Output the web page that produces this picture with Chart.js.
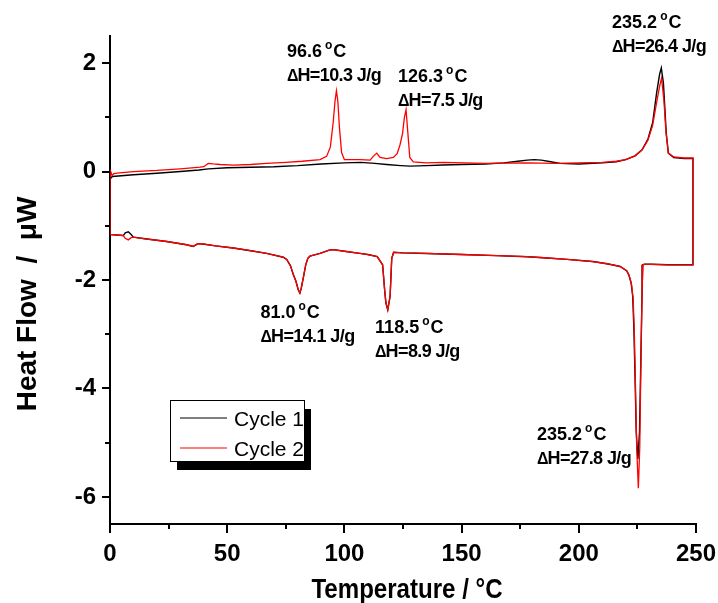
<!DOCTYPE html>
<html>
<head>
<meta charset="utf-8">
<script src="https://cdn.jsdelivr.net/npm/chart.js@4.4.1/dist/chart.umd.min.js"></script>
<style>
body{margin:0;background:#fff}
</style>
</head>
<body>
<canvas id="chart" width="718" height="603"></canvas>
<script>

// cycle 1 : heating run (0 -> 250 C) then cooling run (250 -> 0 C)
const c1HeatT=[0,1,10,20,30,38,42,50,60,70,80,90,100,107,113,118,124,128,135,142,150,160,168,174,178,181,184,188,192,200,210,216,220,224,227,229.5,231.5,233.2,234.5,235.2,236.1,236.8,237.3,238.2,240.5,245,248.7]
const c1HeatHF=[-0.14,-0.09,-0.06,-0.03,0,0.03,0.05,0.07,0.08,0.09,0.11,0.14,0.16,0.17,0.15,0.13,0.11,0.10,0.11,0.12,0.13,0.14,0.16,0.19,0.21,0.22,0.21,0.18,0.15,0.14,0.16,0.18,0.22,0.29,0.4,0.6,0.9,1.45,1.8,1.91,1.63,1.1,0.71,0.34,0.26,0.24,0.24]
const c1CoolT=[248.7,245,238,231,228,227.3,227,226.5,225.9,225.2,224.5,224,223.5,223,222.3,221.3,220.4,217.6,212,206,195,185,178,165,150,135,125,121,120.2,119.5,118.9,118.5,117.7,117.2,116.3,114,110,106.6,100,95.3,93.5,89.6,85.3,84.4,83.5,82.5,81.6,81,80.3,79.3,78.2,77,75.4,73.9,66.8,60,52.6,45,40.3,37.5,35.5,32.7,24.2,15,10,9,7.8,6.5,5.7,3,0]
const c1CoolHF=[-1.72,-1.72,-1.72,-1.71,-1.71,-1.72,-2.2,-3.4,-4.8,-5.3,-4.8,-3.8,-2.9,-2.3,-2.05,-1.9,-1.83,-1.75,-1.7,-1.66,-1.62,-1.59,-1.57,-1.55,-1.53,-1.51,-1.5,-1.49,-1.6,-2.3,-2.45,-2.55,-2.42,-2.2,-1.72,-1.57,-1.53,-1.51,-1.47,-1.44,-1.45,-1.51,-1.56,-1.6,-1.72,-1.95,-2.15,-2.24,-2.18,-2.02,-1.9,-1.74,-1.62,-1.58,-1.51,-1.46,-1.41,-1.37,-1.34,-1.33,-1.38,-1.35,-1.29,-1.24,-1.21,-1.16,-1.11,-1.13,-1.18,-1.17,-1.16]

// cycle 2
const c2HeatT=[0,0.4,0.9,1.6,3,10,20,30,38.4,40,41.9,44,47,52.6,60,66.8,75,82,89.6,92.4,94,95.2,96,96.6,97.2,97.9,98.8,100,106.7,111,112.3,113.8,115.2,118,120.9,122.5,123.7,124.8,125.6,126.3,127,127.9,129.4,135,142.2,160,177.7,190,200,210,216,220,224,227,229.5,231.5,233.3,234.6,235.3,236.3,237.2,238.2,240.5,245,248.7]
const c2HeatHF=[-0.06,-0.01,-0.07,-0.04,-0.03,0,0.02,0.05,0.08,0.09,0.15,0.14,0.13,0.12,0.13,0.15,0.17,0.19,0.22,0.28,0.45,0.9,1.3,1.49,1.3,0.8,0.35,0.22,0.22,0.21,0.28,0.34,0.26,0.24,0.26,0.33,0.49,0.7,1.0,1.14,0.75,0.26,0.18,0.16,0.17,0.15,0.16,0.15,0.16,0.17,0.19,0.22,0.29,0.4,0.58,0.85,1.3,1.6,1.72,1.32,0.72,0.34,0.27,0.25,0.25]
const c2CoolT=[248.7,245,238,231,228,227.3,227,226.6,226,225.4,224.7,224.2,223.7,223.2,222.5,221.5,220.4,217.6,212,206,195,185,178,165,150,135,125,121,120.2,119.5,118.9,118.5,117.7,117.2,116.3,114,110,106.6,100,95.3,93.5,89.6,85.3,84.4,83.5,82.5,81.6,81,80.3,79.3,78.2,77,75.4,73.9,66.8,60,52.6,45,40.3,37.5,35.5,32.7,24.2,15,10,9,7.8,6.5,5.7,3,0]
const c2CoolHF=[-1.72,-1.72,-1.72,-1.71,-1.71,-1.72,-2.2,-3.2,-5.1,-5.84,-5.1,-4.0,-3.0,-2.35,-2.08,-1.92,-1.83,-1.75,-1.7,-1.66,-1.62,-1.59,-1.57,-1.55,-1.53,-1.51,-1.5,-1.49,-1.6,-2.3,-2.45,-2.55,-2.42,-2.2,-1.72,-1.57,-1.53,-1.51,-1.47,-1.44,-1.45,-1.51,-1.56,-1.6,-1.72,-1.95,-2.15,-2.24,-2.18,-2.02,-1.9,-1.74,-1.62,-1.58,-1.51,-1.46,-1.41,-1.37,-1.34,-1.33,-1.38,-1.35,-1.29,-1.24,-1.21,-1.22,-1.26,-1.23,-1.18,-1.17,-1.16]

// peak annotations
const peakTemp=["96.6","126.3","235.2","81.0","118.5","235.2"]
const peakDH=["10.3","7.5","26.4","14.1","8.9","27.8"]
const peakLabelT=[75.5,122.9,214.2,64.2,113.1,182.2]
const peakLabelHF=[2.12,1.66,2.65,-2.70,-2.98,-4.95]

const xMajorTicks=[0,50,100,150,200,250]
const xMinorTicks=[25,75,125,175,225]
const yMajorTicks=[-6,-4,-2,0,2]
const yMinorTicks=[-5,-3,-1,1]

const FONT='"Liberation Sans", Arial, sans-serif'

function loop(hT,hF,cT,cF){
const pts=[]
hT.forEach((t,i)=>pts.push({x:t,y:hF[i]}))
cT.forEach((t,i)=>pts.push({x:t,y:cF[i]}))
pts.push({x:hT[0],y:hF[0]})
return pts
}

function squeezeText(ctx,text,x,y,sx,rot){
ctx.save()
ctx.translate(x,y)
if(rot) ctx.rotate(rot)
ctx.scale(sx,1)
ctx.textAlign="center"
ctx.textBaseline="alphabetic"
ctx.fillText(text,0,0)
ctx.restore()
}

function peakLabel(ctx,x,y,temp,dh){
ctx.save()
ctx.textAlign="left"
ctx.textBaseline="alphabetic"
ctx.font="bold 18px "+FONT
ctx.fillText(temp,x,y)
let w=ctx.measureText(temp).width+3
ctx.font="bold 12px "+FONT
ctx.fillText("o",x+w,y-8)
w+=ctx.measureText("o").width+1
ctx.font="bold 18px "+FONT
ctx.fillText("C",x+w,y)
ctx.font="bold 16px "+FONT
ctx.fillText("\u0394",x,y+24)
let d=ctx.measureText("\u0394").width-1
ctx.font="bold 18px "+FONT
ctx.letterSpacing="-0.6px"
ctx.fillText("H="+dh+" J/g",x+d,y+24)
ctx.restore()
}

const decor={
id:"decor",
afterDraw(chart){
const ctx=chart.ctx
const xs=chart.scales.x
const ys=chart.scales.y
const a=chart.chartArea
ctx.save()
ctx.strokeStyle="#000"
ctx.lineWidth=2
ctx.beginPath()
xMajorTicks.forEach(v=>{const p=Math.round(xs.getPixelForValue(v));ctx.moveTo(p,a.bottom);ctx.lineTo(p,a.bottom+9)})
xMinorTicks.forEach(v=>{const p=Math.round(xs.getPixelForValue(v));ctx.moveTo(p,a.bottom);ctx.lineTo(p,a.bottom+5)})
yMajorTicks.forEach(v=>{const p=Math.round(ys.getPixelForValue(v));ctx.moveTo(a.left,p);ctx.lineTo(a.left-8,p)})
yMinorTicks.forEach(v=>{const p=Math.round(ys.getPixelForValue(v));ctx.moveTo(a.left,p);ctx.lineTo(a.left-5,p)})
ctx.stroke()

// axis titles
ctx.fillStyle="#000"
ctx.font="bold 28px "+FONT
squeezeText(ctx,"Temperature / \u00b0C",407,598,0.86,0)
squeezeText(ctx,"Heat Flow  /  \u03bcW",36,304,1,-Math.PI/2)

// peak labels
peakTemp.forEach((t,i)=>{
peakLabel(ctx,xs.getPixelForValue(peakLabelT[i]),ys.getPixelForValue(peakLabelHF[i]),t,peakDH[i])
})

// legend box with drop shadow
const lx=a.left+60, ly=a.top+364, lw=134, lh=61
ctx.fillStyle="#000"
ctx.fillRect(lx+7,ly+9,lw,lh)
ctx.fillStyle="#fff"
ctx.fillRect(lx,ly,lw,lh)
ctx.lineWidth=1
ctx.strokeStyle="#000"
ctx.strokeRect(lx+0.5,ly+0.5,lw,lh)
chart.data.datasets.forEach((ds,i)=>{
const yy=ly+18+i*30
ctx.strokeStyle=ds.borderColor
ctx.lineWidth=1.2
ctx.beginPath()
ctx.moveTo(lx+10,yy)
ctx.lineTo(lx+57,yy)
ctx.stroke()
ctx.fillStyle="#000"
ctx.font="21px "+FONT
ctx.textAlign="left"
ctx.textBaseline="alphabetic"
ctx.fillText(ds.label,lx+64,yy+8)
})
ctx.restore()
}
}

// fixed axis boxes so the plot area stays at 110..696 x 36..524
function fixPad(s){
s.paddingLeft=0
s.paddingRight=0
s.paddingTop=0
s.paddingBottom=0
}

new Chart(document.getElementById("chart"),{
type:"line",
data:{
datasets:[
{label:"Cycle 1",data:loop(c1HeatT,c1HeatHF,c1CoolT,c1CoolHF),borderColor:"#000000",borderWidth:1.4,pointRadius:0,tension:0,order:2},
{label:"Cycle 2",data:loop(c2HeatT,c2HeatHF,c2CoolT,c2CoolHF),borderColor:"#ff0000",borderWidth:1.3,pointRadius:0,tension:0,order:1}
]
},
options:{
responsive:false,
animation:false,
devicePixelRatio:1,
layout:{padding:{left:0,right:22,top:36,bottom:0}},
plugins:{legend:{display:false},tooltip:{enabled:false}},
scales:{
x:{
type:"linear",
min:0,max:250,
afterBuildTicks:s=>{s.ticks=xMajorTicks.map(v=>({value:v}))},
afterFit:s=>{s.height=79;fixPad(s)},
grid:{display:false,drawTicks:false},
border:{display:true,color:"#000",width:2},
ticks:{color:"#000",padding:16,maxRotation:0,font:{family:FONT,size:24,weight:"bold"}}
},
y:{
type:"linear",
min:-6.5,max:2.5,
afterBuildTicks:s=>{s.ticks=yMajorTicks.map(v=>({value:v}))},
afterFit:s=>{s.width=110;fixPad(s)},
grid:{display:false,drawTicks:false},
border:{display:true,color:"#000",width:2},
ticks:{color:"#000",padding:14,font:{family:FONT,size:24,weight:"bold"}}
}
}
},
plugins:[decor]
})
</script>
</body>
</html>
